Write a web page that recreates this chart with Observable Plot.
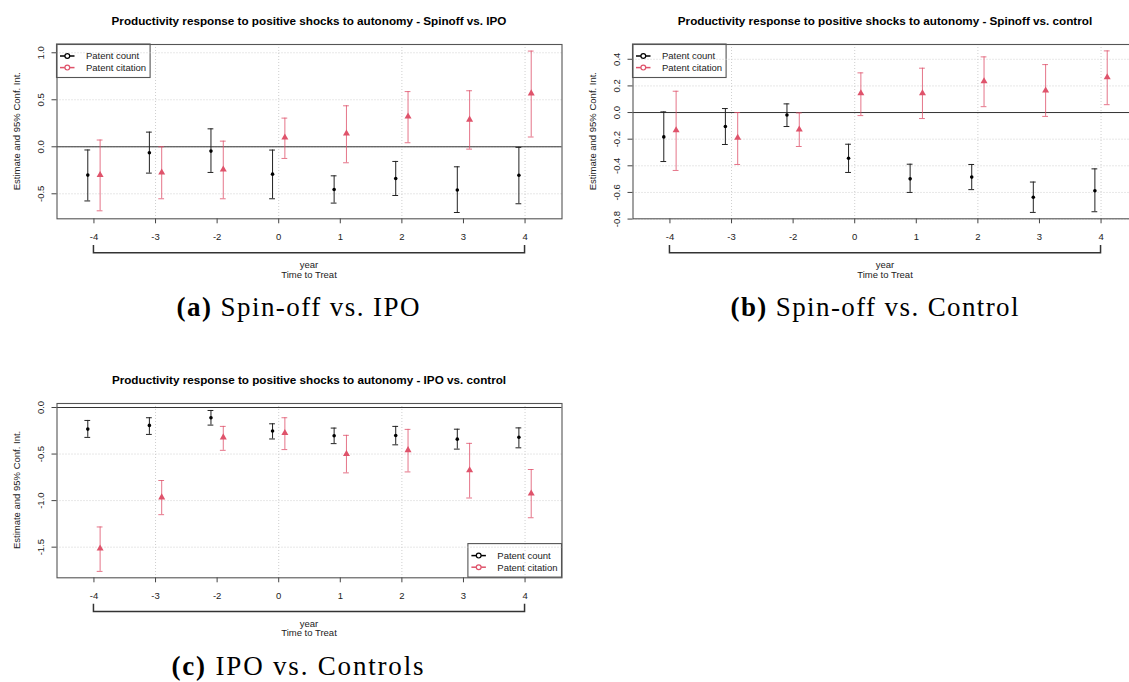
<!DOCTYPE html>
<html>
<head>
<meta charset="utf-8">
<script src="https://cdn.jsdelivr.net/npm/d3@7"></script>
<script src="https://cdn.jsdelivr.net/npm/@observablehq/plot@0.6"></script>
<style>
html, body { margin: 0; padding: 0; background: #fff; overflow: hidden; }
#page { position: relative; width: 1129px; height: 682px; overflow: hidden; background: #fff; }
</style>
</head>
<body>
<div id="page"></div>
<script>
// ---------- data ----------
const years = [-4, -3, -2, 0, 1, 2, 3, 4];
const seriesNames = ["Patent count", "Patent citation"];
const xAxisGroup = "year";
const xAxisTitle = "Time to Treat";
const yAxisTitle = "Estimate and 95% Conf. Int.";

// (a) Spinoff vs. IPO
const aTitle = "Productivity response to positive shocks to autonomy - Spinoff vs. IPO";
const aCountEst = [-0.301, -0.064, -0.046, -0.291, -0.454, -0.337, -0.459, -0.302];
const aCountLo  = [-0.576, -0.280, -0.273, -0.553, -0.599, -0.518, -0.699, -0.606];
const aCountHi  = [-0.034,  0.156,  0.191, -0.035, -0.309, -0.156, -0.213, -0.006];
const aCiteEst  = [-0.301, -0.273, -0.241,  0.099,  0.142,  0.322,  0.289,  0.568];
const aCiteLo   = [-0.681, -0.553, -0.553, -0.124, -0.170,  0.043, -0.025,  0.104];
const aCiteHi   = [ 0.072,  0.000,  0.060,  0.305,  0.436,  0.587,  0.596,  1.018];
const aTicks    = [1.0, 0.5, 0.0, -0.5];
const aDomain   = [-0.766, 1.088];

// (b) Spinoff vs. control
const bTitle = "Productivity response to positive shocks to autonomy - Spinoff vs. control";
const bCountEst = [-0.183, -0.105, -0.018, -0.343, -0.498, -0.485, -0.636, -0.587];
const bCountLo  = [-0.368, -0.240, -0.105, -0.450, -0.600, -0.579, -0.750, -0.745];
const bCountHi  = [ 0.005,  0.030,  0.065, -0.238, -0.388, -0.390, -0.522, -0.423];
const bCiteEst  = [-0.133, -0.190, -0.128,  0.145,  0.145,  0.235,  0.166,  0.265];
const bCiteLo   = [-0.435, -0.390, -0.255, -0.023, -0.045,  0.044, -0.029,  0.059];
const bCiteHi   = [ 0.160,  0.000, -0.003,  0.298,  0.333,  0.418,  0.360,  0.463];
const bTicks    = [0.4, 0.2, 0.0, -0.2, -0.4, -0.6, -0.8];
const bDomain   = [-0.798, 0.511];

// (c) IPO vs. control
const cTitle = "Productivity response to positive shocks to autonomy - IPO vs. control";
const cCountEst = [-0.232, -0.192, -0.110, -0.253, -0.303, -0.300, -0.340, -0.320];
const cCountLo  = [-0.321, -0.289, -0.189, -0.338, -0.388, -0.401, -0.447, -0.433];
const cCountHi  = [-0.139, -0.110, -0.032, -0.175, -0.221, -0.203, -0.233, -0.219];
const cCiteEst  = [-1.514, -0.965, -0.321, -0.274, -0.499, -0.458, -0.674, -0.924];
const cCiteLo   = [-1.760, -1.151, -0.460, -0.452, -0.702, -0.692, -0.972, -1.184];
const cCiteHi   = [-1.283, -0.784, -0.203, -0.110, -0.299, -0.235, -0.385, -0.666];
const cTicks    = [0.0, -0.5, -1.0, -1.5];
const cDomain   = [-1.829, 0.043];

const captionLabels = ["(a)", "(b)", "(c)"];
const captionTexts = ["Spin-off vs. IPO", "Spin-off vs. Control", "IPO vs. Controls"];

// ---------- style / layout ----------
const FONT = "'Liberation Sans', Arial, Helvetica, sans-serif";
const SERIF = "'Liberation Serif', 'Times New Roman', serif";
const RED = "#DF536B";
const GRID = "#cfcfcf";
const W = 565, H = 290;
const M = {left: 56.5, right: 3.5, top: 44, bottom: 71.7};
const xDomain = [0.4, 8.6];
const shift = 0.1;
const capHalf = 0.047;

const page = document.getElementById("page");

function rows(est, lo, hi, d) {
  return years.map((yr, i) => ({year: yr, pos: i + 1 + d, est: est[i], lo: lo[i], hi: hi[i]}));
}

function makePanel(p) {
  const count = rows(p.countEst, p.countLo, p.countHi, -shift);
  const cite = rows(p.citeEst, p.citeLo, p.citeHi, +shift);
  const positions = years.map((_, i) => i + 1);
  const gridPos = positions.filter(v => v % 2 === 0);
  const chart = Plot.plot({
    width: W, height: H,
    marginLeft: M.left, marginRight: M.right, marginTop: M.top, marginBottom: M.bottom,
    x: {domain: xDomain, axis: null, label: null},
    y: {domain: p.domain, axis: null, label: null},
    style: {fontFamily: FONT, fontSize: "9.5px", background: "transparent", color: "#222", overflow: "visible"},
    marks: [
      Plot.gridX(gridPos, {stroke: GRID, strokeOpacity: 1, strokeDasharray: "1,2"}),
      Plot.gridY(p.ticks, {stroke: GRID, strokeOpacity: 1, strokeDasharray: "1,2"}),
      Plot.ruleY([0], {stroke: "#333", strokeWidth: 1}),
      Plot.axisX(positions, {tickSize: 5, tickFormat: () => "", stroke: "#444", label: null}),
      Plot.text(positions, {x: d => d, frameAnchor: "bottom", dy: 18.4, lineAnchor: "middle",
        text: d => String(years[d - 1]), fontSize: 9.5, fill: "#222"}),
      Plot.axisY(p.ticks, {tickSize: 5, tickFormat: () => "", stroke: "#444", label: null}),
      Plot.text(p.ticks, {y: d => d, frameAnchor: "left", dx: -16.5, rotate: -90,
        textAnchor: "middle", lineAnchor: "middle", text: d => d.toFixed(1), fontSize: 9.5, fill: "#222"}),
      // citation CIs
      Plot.ruleX(cite, {x: "pos", y1: "lo", y2: "hi", stroke: RED, strokeOpacity: 0.8}),
      Plot.ruleY(cite, {y: "lo", x1: d => d.pos - capHalf, x2: d => d.pos + capHalf, stroke: RED, strokeOpacity: 0.8}),
      Plot.ruleY(cite, {y: "hi", x1: d => d.pos - capHalf, x2: d => d.pos + capHalf, stroke: RED, strokeOpacity: 0.8}),
      // count CIs
      Plot.ruleX(count, {x: "pos", y1: "lo", y2: "hi", stroke: "#222"}),
      Plot.ruleY(count, {y: "lo", x1: d => d.pos - capHalf, x2: d => d.pos + capHalf, stroke: "#222"}),
      Plot.ruleY(count, {y: "hi", x1: d => d.pos - capHalf, x2: d => d.pos + capHalf, stroke: "#222"}),
      // estimates
      Plot.dot(count, {x: "pos", y: "est", r: 1.8, fill: "#000", stroke: null}),
      Plot.dot(cite, {x: "pos", y: "est", symbol: "triangle", r: 2.6, fill: RED, stroke: null}),
      Plot.frame({stroke: "#555", strokeWidth: 1.1})
    ]
  });
  chart.style.position = "absolute";
  chart.style.left = p.ox + "px";
  chart.style.top = p.oy + "px";
  page.appendChild(chart);
  return chart;
}

const panels = [
  {ox: 0, oy: 0, title: aTitle, countEst: aCountEst, countLo: aCountLo, countHi: aCountHi,
   citeEst: aCiteEst, citeLo: aCiteLo, citeHi: aCiteHi, ticks: aTicks, domain: aDomain, legend: "topleft",
   cap: {cx: 298, y: 316, w: 243}},
  {ox: 576, oy: 0, title: bTitle, countEst: bCountEst, countLo: bCountLo, countHi: bCountHi,
   citeEst: bCiteEst, citeLo: bCiteLo, citeHi: bCiteHi, ticks: bTicks, domain: bDomain, legend: "topleft",
   cap: {cx: 874.5, y: 316, w: 288}},
  {ox: 0, oy: 358.8, title: cTitle, countEst: cCountEst, countLo: cCountLo, countHi: cCountHi,
   citeEst: cCiteEst, citeLo: cCiteLo, citeHi: cCiteHi, ticks: cTicks, domain: cDomain, legend: "bottomright",
   cap: {cx: 297.5, y: 674.5, w: 252}}
];

const overlay = d3.select(page).append("svg")
  .attr("width", 1129).attr("height", 682)
  .style("position", "absolute").style("left", "0px").style("top", "0px")
  .style("font-family", FONT);

panels.forEach((p, k) => {
  const chart = makePanel(p);
  const sx = chart.scale("x"), sy = chart.scale("y");
  const L = p.ox + sx.range[0], R = p.ox + sx.range[1];
  const B = p.oy + sy.range[0], T = p.oy + sy.range[1];
  const cx = (L + R) / 2, cy = (T + B) / 2;
  const g = overlay.append("g");

  // title
  g.append("text").attr("x", cx).attr("y", T - 18.7).attr("text-anchor", "middle")
    .attr("font-weight", "bold").attr("font-size", 11.7).attr("fill", "#000").text(p.title);
  // y axis title
  g.append("text").attr("transform", `translate(${L - 40},${cy}) rotate(-90)`)
    .attr("text-anchor", "middle").attr("dy", "0.35em").attr("font-size", 9.5).attr("fill", "#222").text(yAxisTitle);
  // bracket under x axis
  const x1 = p.ox + sx.apply(1), x2 = p.ox + sx.apply(years.length);
  g.append("path").attr("d", `M${x1},${B + 26.7}V${B + 34.4}H${x2}V${B + 26.7}`)
    .attr("fill", "none").attr("stroke", "#333").attr("stroke-width", 1.5);
  g.append("text").attr("x", cx).attr("y", B + 46.3).attr("dy", "0.35em").attr("text-anchor", "middle")
    .attr("font-size", 9.5).attr("fill", "#222").text(xAxisGroup);
  g.append("text").attr("x", cx).attr("y", B + 56).attr("dy", "0.35em").attr("text-anchor", "middle")
    .attr("font-size", 9.5).attr("fill", "#222").text(xAxisTitle);

  // legend
  const lw = 93.6, lh = 33.5;
  const lx = p.legend === "topleft" ? L : R - lw;
  const ly = p.legend === "topleft" ? T : B - lh;
  g.append("rect").attr("x", lx).attr("y", ly).attr("width", lw).attr("height", lh)
    .attr("fill", "#fff").attr("stroke", "#555").attr("stroke-width", 1.1);
  const colors = ["#000", RED];
  seriesNames.forEach((name, i) => {
    const yy = ly + 12 + i * 11.6;
    g.append("line").attr("x1", lx + 3.5).attr("x2", lx + 18).attr("y1", yy).attr("y2", yy)
      .attr("stroke", colors[i]).attr("stroke-width", 1.5);
    g.append("circle").attr("cx", lx + 10.8).attr("cy", yy).attr("r", 2.4)
      .attr("fill", "#fff").attr("stroke", colors[i]).attr("stroke-width", 1.2);
    g.append("text").attr("x", lx + 29.4).attr("y", yy).attr("dy", "0.35em")
      .attr("font-size", 9.5).attr("fill", "#222").text(name);
  });

  // caption
  const cap = g.append("text").attr("x", p.cap.cx).attr("y", p.cap.y).attr("text-anchor", "middle")
    .attr("font-family", SERIF).attr("font-size", 27).attr("fill", "#000")
    .attr("textLength", p.cap.w).attr("lengthAdjust", "spacing");
  cap.append("tspan").attr("font-weight", "bold").text(captionLabels[k]);
  cap.append("tspan").text("\u00a0" + captionTexts[k]);
});
</script>
</body>
</html>
